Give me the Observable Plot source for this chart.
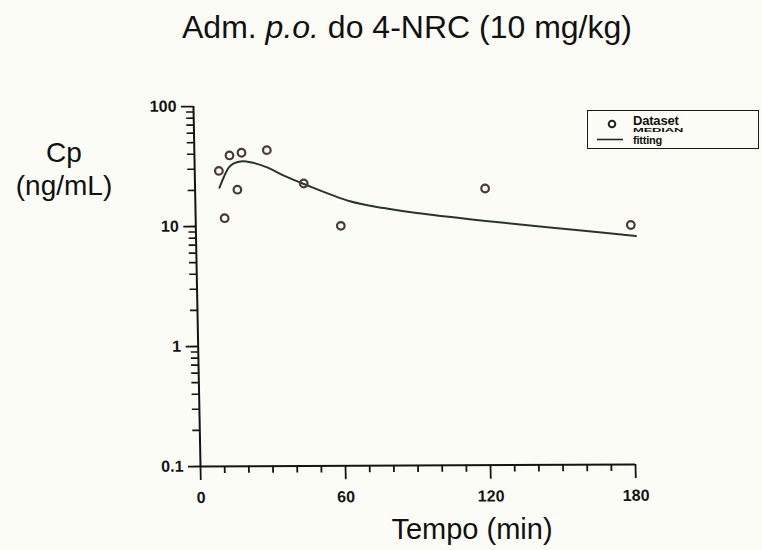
<!DOCTYPE html>
<html>
<head>
<meta charset="utf-8">
<script src="https://cdn.jsdelivr.net/npm/d3@7"></script>
<script src="https://cdn.jsdelivr.net/npm/@observablehq/plot@0.6"></script>
<style>
  html, body { margin: 0; padding: 0; background: #fcfcf7; }
  #page { position: relative; width: 762px; height: 550px; overflow: hidden;
          font-family: "Liberation Sans", Arial, sans-serif; color: #111; }
  #page > svg { position: absolute; left: 0; top: 0;
                transform-origin: 200px 466px; transform: rotate(-0.27deg) skewX(0.85deg); }
  .lbl { position: absolute; white-space: nowrap; line-height: 1; }
  #title { left: 182px; top: 11px; font-size: 32px; }
  #ylab { left: 4px; width: 120px; top: 136px; font-size: 28px; line-height: 33px; text-align: center; }
  #xlab { left: 372px; width: 200px; top: 515px; font-size: 29px; text-align: center; }
  #legend { position: absolute; left: 587px; top: 110px; width: 172px; height: 39px;
            border: 1.6px solid #1a1a1a; box-sizing: border-box; }
  #legend .key { position: absolute; left: 45px; font-size: 13px; font-weight: bold;
                 letter-spacing: -0.2px; line-height: 1.117; white-space: nowrap; }
  #legend .squash { transform-origin: left top; transform: scaleY(0.35); }
</style>
</head>
<body>
<div id="page">
  <div class="lbl" id="title">Adm. <i>p.o.</i> do 4-NRC (10 mg/kg)</div>
  <div class="lbl" id="ylab">Cp<br>(ng/mL)</div>
  <div class="lbl" id="xlab">Tempo (min)</div>
  <div id="legend"></div>
</div>
<script>
// Observed plasma concentrations after oral dosing
const tempo = [10, 12, 14.5, 17.5, 19.5, 30, 45, 60, 120, 180];
const cp = [29, 11.7, 39, 20.2, 41, 43, 22.6, 10, 20.2, 9.9];

// Fitted (median) profile
const fitTempo = [10.1, 12, 14.1, 16.2, 19, 23.1, 30, 36.8, 45, 64, 78, 91.5, 119, 146.5, 160.5, 182];
const fitCp = [21, 25.8, 30.9, 33.4, 34.7, 34.2, 30.9, 26.3, 22.4, 16, 14, 12.7, 10.9, 9.5, 8.9, 8];

// Axis ticks
const xMajor = [0, 60, 120, 180];
const xMinor = [10, 20, 30, 40, 50, 70, 80, 90, 100, 110, 130, 140, 150, 160, 170];
const yMajor = [0.1, 1, 10, 100];
const yMinor = [0.1, 1, 10].flatMap(d => [2, 3, 4, 5, 6, 7, 8, 9].map(k => +(k * d).toPrecision(3)));

const obs = tempo.map((t, i) => ({t, c: cp[i]}));
const fit = fitTempo.map((t, i) => ({t, c: fitCp[i]}));

const ink = "#141414";

const chart = Plot.plot({
  width: 762,
  height: 550,
  marginTop: 106,
  marginBottom: 84,
  marginLeft: 200,
  marginRight: 127,
  style: {background: "transparent", color: ink, fontFamily: "Liberation Sans, Arial, sans-serif"},
  x: {domain: [0, 180], axis: null},
  y: {type: "log", domain: [0.1, 100], axis: null},
  marks: [
    Plot.axisY(yMinor, {anchor: "left", tickSize: 7, strokeWidth: 1.6, text: null, label: null}),
    Plot.axisY(yMajor, {anchor: "left", tickSize: 12, strokeWidth: 1.8, tickPadding: 5,
      tickFormat: d => String(d), fontSize: 16, fontWeight: "bold", label: null}),
    Plot.axisX(xMinor, {anchor: "bottom", tickSize: 7, strokeWidth: 1.8, text: null, label: null}),
    Plot.axisX(xMajor, {anchor: "bottom", tickSize: 14, strokeWidth: 1.8, tickPadding: 11,
      tickFormat: d => String(d), fontSize: 16, fontWeight: "bold", label: null}),
    Plot.ruleX([0], {y1: 0.1, y2: 100, stroke: ink, strokeWidth: 2}),
    Plot.ruleY([0.1], {x1: 0, x2: 180, stroke: ink, strokeWidth: 2}),
    Plot.line(fit, {x: "t", y: "c", curve: "catmull-rom", stroke: "#26352f", strokeWidth: 2}),
    Plot.dot(obs, {x: "t", y: "c", r: 3.8, stroke: "#4a3a34", strokeWidth: 2.2, fill: "none"})
  ]
});
document.getElementById("page").prepend(chart);

// Legend: circle for the data set, line for the fitted curve
const legend = document.getElementById("legend");
legend.innerHTML = `
  <svg width="40" height="36" style="position:absolute;left:0;top:0">
    <circle cx="24" cy="13" r="3.3" fill="none" stroke="#222" stroke-width="2"/>
    <line x1="9" x2="35" y1="28.5" y2="28.5" stroke="#222" stroke-width="1.6"/>
  </svg>
  <div class="key" style="top:2.6px">Dataset</div>
  <div class="key squash" style="top:17.4px">MEDIAN</div>
  <div class="key" style="top:22.8px;font-size:11px">fitting</div>`;
</script>
</body>
</html>
